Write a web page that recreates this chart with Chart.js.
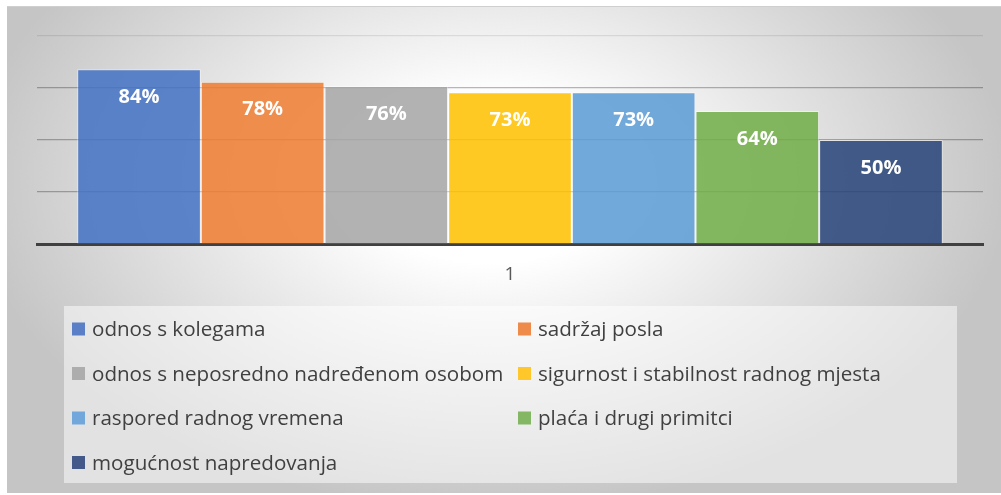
<!DOCTYPE html>
<html>
<head>
<meta charset="utf-8">
<script src="https://cdn.jsdelivr.net/npm/chart.js@4.4.1/dist/chart.umd.min.js"></script>
<style>
  html, body { margin: 0; padding: 0; background: #ffffff; }
  #wrap { width: 1001px; height: 495px; position: relative; }
</style>
</head>
<body>
<div id="wrap"><canvas id="c" width="1001" height="495"></canvas></div>
<script>
// ---- data ----
const categories = ['1'];
const seriesNames = [
  'odnos s kolegama',
  'sadržaj posla',
  'odnos s neposredno nadređenom osobom',
  'sigurnost i stabilnost radnog mjesta',
  'raspored radnog vremena',
  'plaća i drugi primitci',
  'mogućnost napredovanja'
];
const seriesValues = [84, 78, 76, 73, 73, 64, 50];
const yTicks = [0, 25, 50, 75, 100];

// ---- styles ----
const seriesColors = [
  'rgba(68,114,196,0.86)',
  'rgba(237,125,49,0.86)',
  'rgba(165,165,165,0.86)',
  'rgba(255,192,0,0.86)',
  'rgba(91,155,213,0.86)',
  'rgba(112,173,71,0.86)',
  'rgba(38,68,120,0.86)'
];
const legendColors = ['#5A7FC6','#EE8A4A','#ADADAD','#FFC72A','#72A7DB','#84B763','#43598A'];

const FONT = '"Open Sans", "Noto Sans", sans-serif';

const bgPlugin = {
  id: 'bg',
  beforeDraw(chart) {
    const ctx = chart.ctx;
    ctx.save();
    const x0 = 7, y0 = 7, x1 = 1001, y1 = 493;
    const cx = 490, cy = 180, rx = 520, ry = 330;
    ctx.beginPath();
    ctx.rect(x0, y0, x1 - x0, y1 - y0);
    ctx.clip();
    ctx.translate(cx, cy);
    ctx.scale(1, ry / rx);
    const g = ctx.createRadialGradient(0, 0, 0, 0, 0, rx);
    g.addColorStop(0, '#ffffff');
    g.addColorStop(0.25, '#ffffff');
    g.addColorStop(1, '#c5c5c5');
    ctx.fillStyle = g;
    ctx.fillRect(-cx - 10, -(cy + 10) * rx / ry, 1100, 600 * rx / ry);
    ctx.restore();
    ctx.save();
    ctx.strokeStyle = '#cfcfcf';
    ctx.lineWidth = 1;
    ctx.beginPath();
    ctx.moveTo(x0, 6.5);
    ctx.lineTo(x1, 6.5);
    ctx.stroke();
    ctx.restore();
  }
};

const labelPlugin = {
  id: 'valueLabels',
  afterDatasetsDraw(chart) {
    const ctx = chart.ctx;
    ctx.save();
    ctx.fillStyle = '#ffffff';
    ctx.font = 'bold 20px ' + FONT;
    ctx.textAlign = 'center';
    ctx.textBaseline = 'middle';
    chart.data.datasets.forEach((ds, i) => {
      const meta = chart.getDatasetMeta(i);
      meta.data.forEach((bar, j) => {
        ctx.fillText(ds.data[j] + '%', bar.x, bar.y + 28);
      });
    });
    ctx.restore();
  }
};

const legendPlugin = {
  id: 'gridLegend',
  afterDraw(chart) {
    const ctx = chart.ctx;
    ctx.save();
    ctx.fillStyle = 'rgba(255,255,255,0.5)';
    ctx.fillRect(64, 306, 893, 177);
    const colX = [72, 518];
    const rowY = [329, 373.5, 418, 462.5];
    ctx.font = '20.6px ' + FONT;
    ctx.textAlign = 'left';
    ctx.textBaseline = 'alphabetic';
    chart.data.datasets.forEach((ds, i) => {
      const x = colX[i % 2];
      const y = rowY[Math.floor(i / 2)];
      ctx.fillStyle = legendColors[i];
      ctx.fillRect(x, y - 6.5, 13, 13);
      ctx.fillStyle = '#404040';
      ctx.fillText(ds.label, x + 20, y + 7);
    });
    ctx.restore();
  }
};

new Chart(document.getElementById('c'), {
  type: 'bar',
  data: {
    labels: categories,
    datasets: seriesNames.map((name, i) => ({
      label: name,
      data: [seriesValues[i]],
      backgroundColor: seriesColors[i],
      borderColor: 'rgba(255,255,255,0.45)',
      borderWidth: 1,
      barPercentage: 1,
      categoryPercentage: 0.915
    }))
  },
  options: {
    responsive: false,
    animation: false,
    events: [],
    layout: { padding: { left: 37, right: 18, top: 36, bottom: 201 } },
    plugins: {
      legend: { display: false },
      tooltip: { enabled: false },
      title: { display: false }
    },
    scales: {
      x: {
        grid: { display: false, drawTicks: false },
        border: { display: true, color: '#404040', width: 3 },
        ticks: { color: '#595959', font: { family: FONT, size: 19 }, padding: 19 },
        afterFit(s) { s.height = 50; }
      },
      y: {
        min: 0, max: 100,
        afterBuildTicks(s) { s.ticks = yTicks.map(v => ({ value: v })); },
        grid: {
          drawTicks: false,
          color: (c) => c.tick && c.tick.value === 100 ? 'rgba(0,0,0,0.09)' : 'rgba(0,0,0,0.28)',
          lineWidth: 1.2
        },
        border: { display: false },
        ticks: { display: false },
        afterFit(s) { s.width = 0; }
      }
    }
  },
  plugins: [bgPlugin, labelPlugin, legendPlugin]
});
</script>
</body>
</html>
